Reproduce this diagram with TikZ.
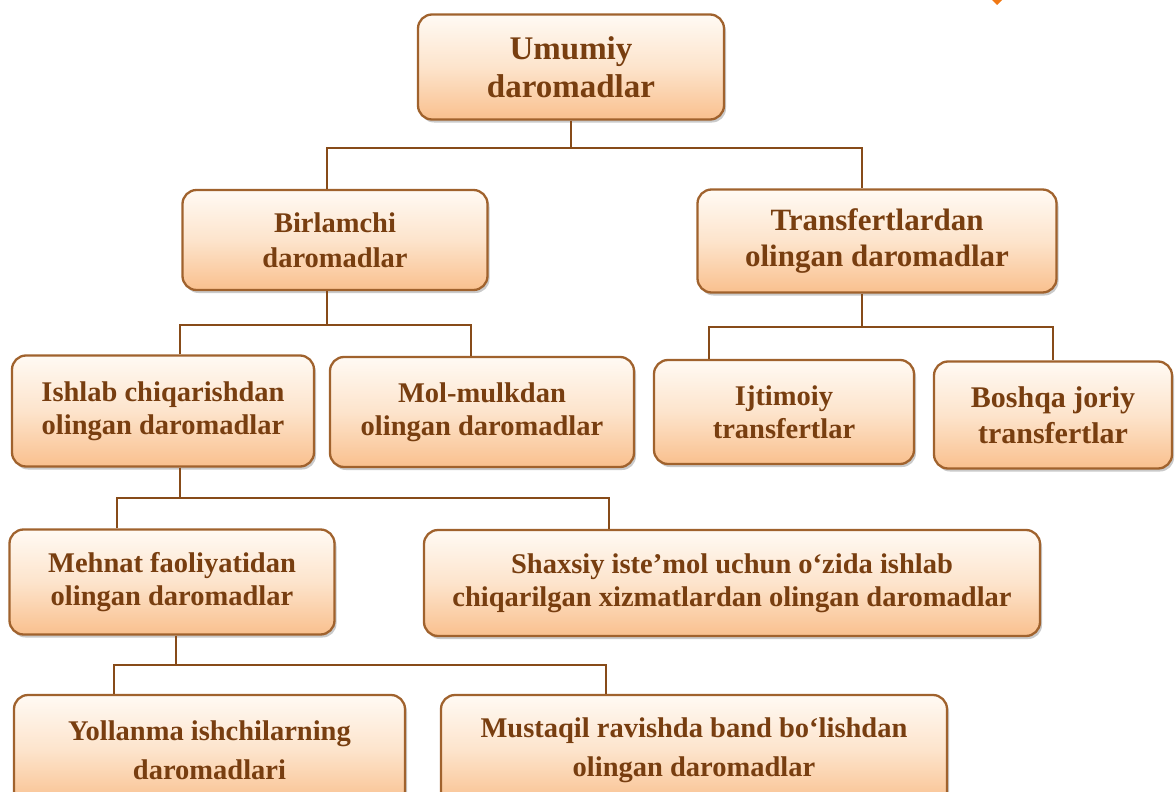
\documentclass[tikz,border=0pt]{standalone}
\usepackage{fontspec}
\setmainfont{Liberation Serif}
\usetikzlibrary{shadows}
\definecolor{boxline}{RGB}{160,98,45}
\definecolor{conncol}{RGB}{135,75,25}
\definecolor{txtcol}{RGB}{120,62,16}
\definecolor{filltop}{RGB}{255,250,244}
\definecolor{fillbot}{RGB}{249,192,142}
\definecolor{markor}{RGB}{240,120,20}
\tikzset{
  box/.style={draw=boxline, line width=2.3pt, rounded corners=14pt,
    top color=filltop, bottom color=fillbot, middle color={rgb,255:red,253;green,228;blue,204},
    drop shadow={shadow xshift=2pt, shadow yshift=-3pt, opacity=0.35, fill=black!60},
    align=center, text=txtcol, font=\bfseries\fontsize{28.5}{33}\selectfont,
    inner sep=0pt},
  conn/.style={draw=conncol, line width=2.6pt},
}
\begin{document}
\begin{tikzpicture}[x=1pt,y=1pt]
\useasboundingbox (0,0) rectangle (1176,-792);
\clip (0,0) rectangle (1176,-792);
\node[box, minimum width=306pt, minimum height=105pt, font=\bfseries\fontsize{33}{38}\selectfont] (umumiy) at (571,-67) {Umumiy\\daromadlar};
\node[box, minimum width=305pt, minimum height=100pt, font=\bfseries\fontsize{28.5}{35}\selectfont] (birl) at (335,-240) {Birlamchi\\daromadlar};
\node[box, minimum width=359pt, minimum height=103pt, font=\bfseries\fontsize{31}{36}\selectfont] (trans) at (877,-241) {Transfertlardan\\olingan daromadlar};
\node[box, minimum width=302pt, minimum height=111pt] (ishlab) at (163,-411) {Ishlab chiqarishdan\\olingan daromadlar};
\node[box, minimum width=304pt, minimum height=110pt] (mol) at (482,-412) {Mol-mulkdan\\olingan daromadlar};
\node[box, minimum width=260pt, minimum height=104pt] (ijt) at (784,-412) {Ijtimoiy\\transfertlar};
\node[box, minimum width=238pt, minimum height=107pt, font=\bfseries\fontsize{30}{36}\selectfont] (boshqa) at (1053,-415) {Boshqa joriy\\transfertlar};
\node[box, minimum width=325pt, minimum height=105pt] (mehnat) at (172,-582) {Mehnat faoliyatidan\\olingan daromadlar};
\node[box, minimum width=616pt, minimum height=106pt] (shaxsiy) at (732,-583) {Shaxsiy iste’mol uchun o‘zida ishlab\\chiqarilgan xizmatlardan olingan daromadlar};
\node[box, minimum width=391pt, minimum height=110pt, font=\bfseries\fontsize{28.5}{39}\selectfont] (yoll) at (209.5,-750) {Yollanma ishchilarning\\daromadlari};
\node[box, minimum width=506pt, minimum height=110pt, font=\bfseries\fontsize{28.5}{39}\selectfont] (must) at (694,-750) {Mustaqil ravishda band bo‘lishdan\\olingan daromadlar};
% connectors
\coordinate (j1) at (570,-148);
\draw[conn] (umumiy.south) -- (umumiy.south |- j1);
\draw[conn] ([xshift=-8pt]birl.north) |- (j1) -| ([xshift=-15pt]trans.north);
\coordinate (j2) at (327,-325);
\draw[conn] ([xshift=-8pt]birl.south) -- (j2);
\draw[conn] ([xshift=17pt]ishlab.north) |- (j2) -| ([xshift=-11pt]mol.north);
\coordinate (j3) at (862,-327);
\draw[conn] ([xshift=-15pt]trans.south) -- (j3);
\draw[conn] ([xshift=-75pt]ijt.north) |- (j3) -| (boshqa.north);
\coordinate (j4) at (180,-498);
\draw[conn] ([xshift=17pt]ishlab.south) -- (j4);
\draw[conn] ([xshift=-55pt]mehnat.north) |- (j4) -| ([xshift=-123pt]shaxsiy.north);
\coordinate (j5) at (176,-665);
\draw[conn] ([xshift=4pt]mehnat.south) -- (j5);
\draw[conn] ([xshift=-95.5pt]yoll.north) |- (j5) -| ([xshift=-88pt]must.north);
% small orange mark at top edge
\fill[markor] (990,2) -- (1004,2) -- (997,-5) -- cycle;
\end{tikzpicture}
\end{document}
